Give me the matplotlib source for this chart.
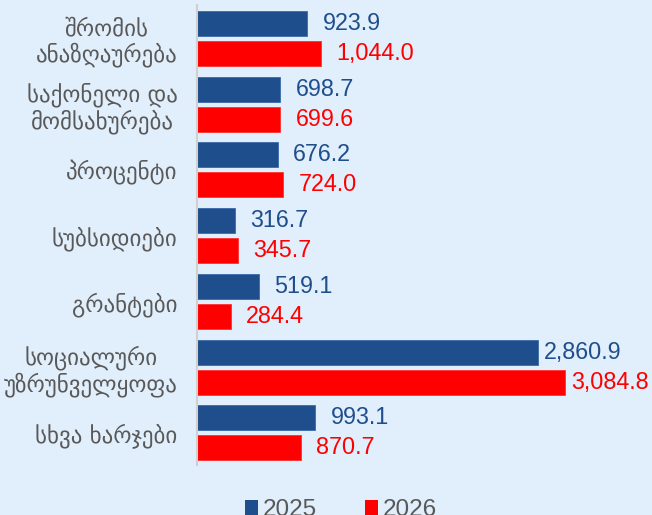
import matplotlib
matplotlib.use("Agg")
import matplotlib.pyplot as plt
from matplotlib.patches import Patch
import numpy as np

categories = ["შრომის\nანაზღაურება", "საქონელი და\nმომსახურება", "პროცენტი",
              "სუბსიდიები", "გრანტები", "სოციალური\nუზრუნველყოფა", "სხვა ხარჯები"]
v2025 = [923.9, 698.7, 676.2, 316.7, 519.1, 2860.9, 993.1]
v2026 = [1044.0, 699.6, 724.0, 345.7, 284.4, 3084.8, 870.7]
series_names = ["2025", "2026"]

bg = "#E1EEFB"
blue = "#1F4E8C"
red = "#FF0000"
gray = "#595959"

fig = plt.figure(figsize=(6.52, 5.15), dpi=100)
fig.patch.set_facecolor(bg)
ax = fig.add_axes([197/652, 50/515, 443/652, 460/515])
ax.set_facecolor(bg)

y = np.arange(len(categories))
off = 0.228
h = 0.38
b1 = ax.barh(y - off, v2025, height=h, color=blue, edgecolor="#3A6AA8", linewidth=0.6)
b2 = ax.barh(y + off, v2026, height=h, color=red, edgecolor="#FF3030", linewidth=0.6)

ax.set_xlim(0, 443/0.1192)
ax.set_ylim(6.49, -0.51)

for rects, vals, col in ((b1, v2025, blue), (b2, v2026, red)):
    for r, v in zip(rects, vals):
        gap = 11 if v < 2000 else 4.5
        ax.annotate(f"{v:,.1f}", xy=(v, r.get_y() + r.get_height()/2),
                    xytext=(gap, 0), textcoords="offset points",
                    ha="left", va="center", color=col, fontsize=16.8,
                    family="Liberation Sans")

ax.set_yticks(y)
ax.set_yticklabels(categories, fontsize=16.5, color=gray, family="DejaVu Sans",
                   multialignment="center", linespacing=1.1)
ax.tick_params(axis="y", length=0, pad=14)
ax.set_xticks([])
for s in ["top", "right", "bottom"]:
    ax.spines[s].set_visible(False)
ax.spines["left"].set_color("#D0D0D0")
ax.spines["left"].set_linewidth(1.5)

handles = [Patch(facecolor=blue), Patch(facecolor=red)]
fig.legend(handles, series_names, loc="center", bbox_to_anchor=(341/652, 5/515),
           ncol=2, frameon=False, handlelength=0.55, handleheight=0.55,
           handletextpad=0.2, columnspacing=1.95,
           prop={"family": "Liberation Sans", "size": 17.5}, labelcolor=gray)

fig.savefig("out.png", dpi=100, facecolor=bg)
